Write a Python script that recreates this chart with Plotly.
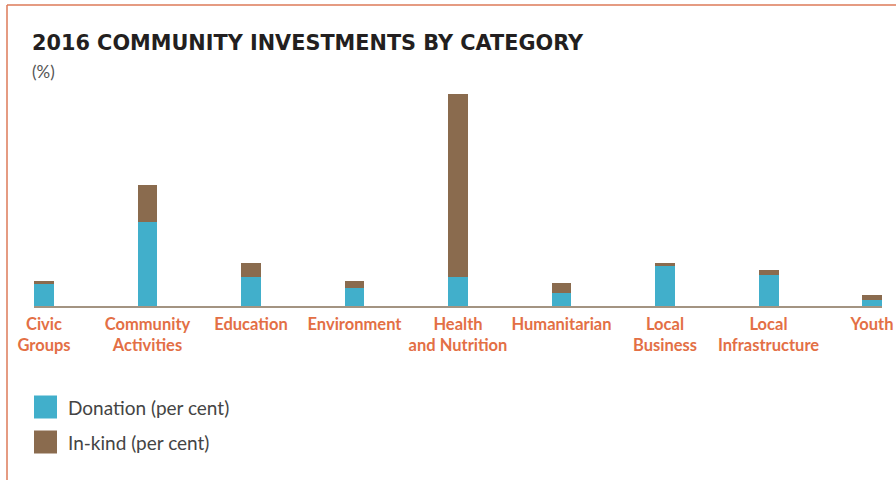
import plotly.graph_objects as go

categories = ["Civic<br>Groups", "Community<br>Activities", "Education", "Environment",
              "Health<br>and Nutrition", "Humanitarian", "Local<br>Business",
              "Local<br>Infrastructure", "Youth"]
donation = [8.2, 31.2, 10.8, 6.8, 10.8, 4.9, 14.9, 11.6, 2.3]
in_kind = [1.1, 13.7, 5.2, 2.6, 67.7, 3.7, 1.1, 1.9, 1.9]
series_names = ["Donation (per cent)", "In-kind (per cent)"]
colors = ["#41AFCB", "#8A6B4E"]

W, H = 896, 480
L, R, T, B = 34, 14, 80, 174
pw, ph = W - L - R, H - T - B

def px(X):
    return (X - L) / pw

def py(Y):
    return (H - B - Y) / ph

x = list(range(len(categories)))
bw = 0.193

fig = go.Figure()
for name, vals, c in zip(series_names, [donation, in_kind], colors):
    fig.add_trace(go.Bar(x=x, y=vals, name=name, marker=dict(color=c, line=dict(width=0)),
                         width=bw, showlegend=False))

fig.update_layout(
    barmode="stack",
    width=W, height=H,
    margin=dict(l=L, r=R, t=T, b=B, autoexpand=False),
    paper_bgcolor="white", plot_bgcolor="white",
    font=dict(family="Lato", color="#333"),
    xaxis=dict(range=[-bw / 2, len(categories) - 1 + bw / 2], tickvals=x, ticktext=categories,
               showgrid=False, zeroline=False, showline=True, linecolor="#A39482", linewidth=2,
               ticks="", ticklabelstandoff=2, tickangle=0, ticklabeloverflow="allow",
               automargin=False,
               tickfont=dict(family="Lato", size=16.5, color="#E36F45", weight="bold"),
               fixedrange=True),
    yaxis=dict(range=[0, 83.6], visible=False, fixedrange=True, automargin=False),
)

# frame lines
fig.add_shape(type="line", xref="paper", yref="paper", x0=px(7), x1=px(W + 5), y0=py(5), y1=py(5),
              line=dict(color="#DC7A58", width=1.5))
fig.add_shape(type="line", xref="paper", yref="paper", x0=px(7), x1=px(7), y0=py(5), y1=py(H + 5),
              line=dict(color="#DC7A58", width=1.5))

# title
fig.add_annotation(text="<b>2016 COMMUNITY INVESTMENTS BY CATEGORY</b>", xref="paper", yref="paper",
                   x=px(30), y=py(43), xanchor="left", yanchor="middle", showarrow=False,
                   font=dict(family="DejaVu Sans", size=20.8, color="#231F20"))
fig.add_annotation(text="(%)", xref="paper", yref="paper", x=px(30), y=py(71),
                   xanchor="left", yanchor="middle", showarrow=False,
                   font=dict(family="Lato", size=17, color="#555"))

# legend
for i, (name, c) in enumerate(zip(series_names, colors)):
    yc = 407 + 35 * i
    fig.add_shape(type="rect", xref="paper", yref="paper", x0=px(34), x1=px(57),
                  y0=py(yc - 11.5), y1=py(yc + 11.5), fillcolor=c, line=dict(width=0))
    fig.add_annotation(text=name, xref="paper", yref="paper", x=px(66), y=py(yc),
                       xanchor="left", yanchor="middle", showarrow=False,
                       font=dict(family="Lato", size=19, color="#444"))

fig.write_html("out.html", config={"displayModeBar": False},
               post_script="document.body.style.margin='0';document.body.style.overflow='hidden';")
